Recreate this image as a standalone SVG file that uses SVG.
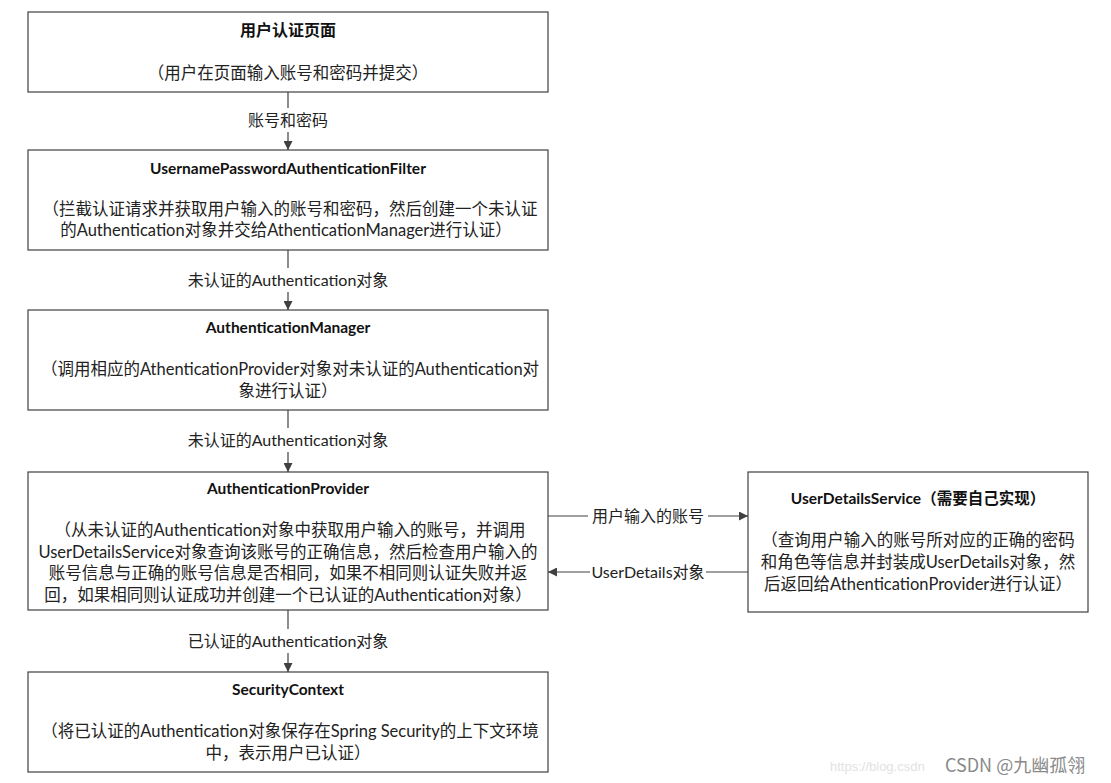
<svg xmlns="http://www.w3.org/2000/svg" width="1111" height="783" viewBox="0 0 1111 783">
<style>
.box{fill:#fff;stroke:#404040;stroke-width:1.2}
.t{font-family:Lato,"Noto Sans CJK SC",sans-serif;font-size:16.5px;fill:#222;text-anchor:middle}
.b{font-family:Lato,"Noto Sans CJK SC",sans-serif;font-size:15.5px;font-weight:bold;fill:#111;text-anchor:middle}
.l{font-family:Lato,"Noto Sans CJK SC",sans-serif;font-size:16px;fill:#222;text-anchor:middle}
.c{stroke:#404040;stroke-width:1.2;fill:none}
.wm{font-family:"Noto Sans CJK SC",sans-serif;font-size:18px;fill:#8a8a8a}
</style>
<defs>
<marker id="ah" viewBox="0 0 10 10" refX="10" refY="5" markerWidth="9" markerHeight="9" markerUnits="userSpaceOnUse" orient="auto">
<path d="M0,0 L10,5 L0,10 z" fill="#404040"/>
</marker>
</defs>
<rect width="1111" height="783" fill="#fff"/>
<g id="connectors">
<line class="c" x1="288" y1="92" x2="288" y2="108"/>
<line class="c" x1="288" y1="132" x2="288" y2="150" marker-end="url(#ah)"/>
<line class="c" x1="288" y1="250" x2="288" y2="268"/>
<line class="c" x1="288" y1="292" x2="288" y2="310" marker-end="url(#ah)"/>
<line class="c" x1="288" y1="410" x2="288" y2="428"/>
<line class="c" x1="288" y1="452" x2="288" y2="472" marker-end="url(#ah)"/>
<line class="c" x1="288" y1="610" x2="288" y2="629"/>
<line class="c" x1="288" y1="653" x2="288" y2="672" marker-end="url(#ah)"/>
<line class="c" x1="548" y1="516" x2="588" y2="516"/>
<line class="c" x1="708" y1="516" x2="748" y2="516" marker-end="url(#ah)"/>
<line class="c" x1="748" y1="572" x2="706" y2="572"/>
<line class="c" x1="590" y1="572" x2="548" y2="572" marker-end="url(#ah)"/>
<text class="l" x="288" y="126">账号和密码</text>
<text class="l" x="288" y="286">未认证的Authentication对象</text>
<text class="l" x="288" y="446">未认证的Authentication对象</text>
<text class="l" x="288" y="647">已认证的Authentication对象</text>
<text class="l" x="648" y="522">用户输入的账号</text>
<text class="l" x="648" y="578">UserDetails对象</text>
</g>
<g id="n1">
<rect class="box" x="28" y="12" width="520" height="80"/>
<text class="b" x="288" y="36" style="font-size:16px">用户认证页面</text>
<text class="t" x="288" y="79">（用户在页面输入账号和密码并提交）</text>
</g>
<g id="n2">
<rect class="box" x="28" y="150" width="520" height="100"/>
<text class="b" x="288" y="174">UsernamePasswordAuthenticationFilter</text>
<text class="t" x="290" y="215">（拦截认证请求并获取用户输入的账号和密码，然后创建一个未认证</text>
<text class="t" x="286" y="236">的Authentication对象并交给AthenticationManager进行认证）</text>
</g>
<g id="n3">
<rect class="box" x="28" y="310" width="520" height="100"/>
<text class="b" x="288" y="333">AuthenticationManager</text>
<text class="t" x="290" y="375">（调用相应的AthenticationProvider对象对未认证的Authentication对</text>
<text class="t" x="288" y="397">象进行认证）</text>
</g>
<g id="n4">
<rect class="box" x="28" y="472" width="520" height="138"/>
<text class="b" x="288" y="494">AuthenticationProvider</text>
<text class="t" x="290" y="536">（从未认证的Authentication对象中获取用户输入的账号，并调用</text>
<text class="t" x="288" y="558">UserDetailsService对象查询该账号的正确信息，然后检查用户输入的</text>
<text class="t" x="288" y="579">账号信息与正确的账号信息是否相同，如果不相同则认证失败并返</text>
<text class="t" x="288" y="601">回，如果相同则认证成功并创建一个已认证的Authentication对象）</text>
</g>
<g id="n5">
<rect class="box" x="28" y="672" width="520" height="100"/>
<text class="b" x="288" y="695">SecurityContext</text>
<text class="t" x="290" y="737">（将已认证的Authentication对象保存在Spring Security的上下文环境</text>
<text class="t" x="288" y="759">中，表示用户已认证）</text>
</g>
<g id="n6">
<rect class="box" x="748" y="472" width="340" height="140"/>
<text class="b" x="918" y="504">UserDetailsService（需要自己实现）</text>
<text class="t" x="918" y="546">（查询用户输入的账号所对应的正确的密码</text>
<text class="t" x="918" y="568">和角色等信息并封装成UserDetails对象，然</text>
<text class="t" x="918" y="590">后返回给AthenticationProvider进行认证）</text>
</g>
<g id="watermark">
<text x="830" y="771" font-family="Liberation Sans,sans-serif" font-size="13" fill="#e2e2e2">https://blog.csdn</text>
<text class="wm" x="945" y="772">CSDN @九幽孤翎</text>
</g>
</svg>
